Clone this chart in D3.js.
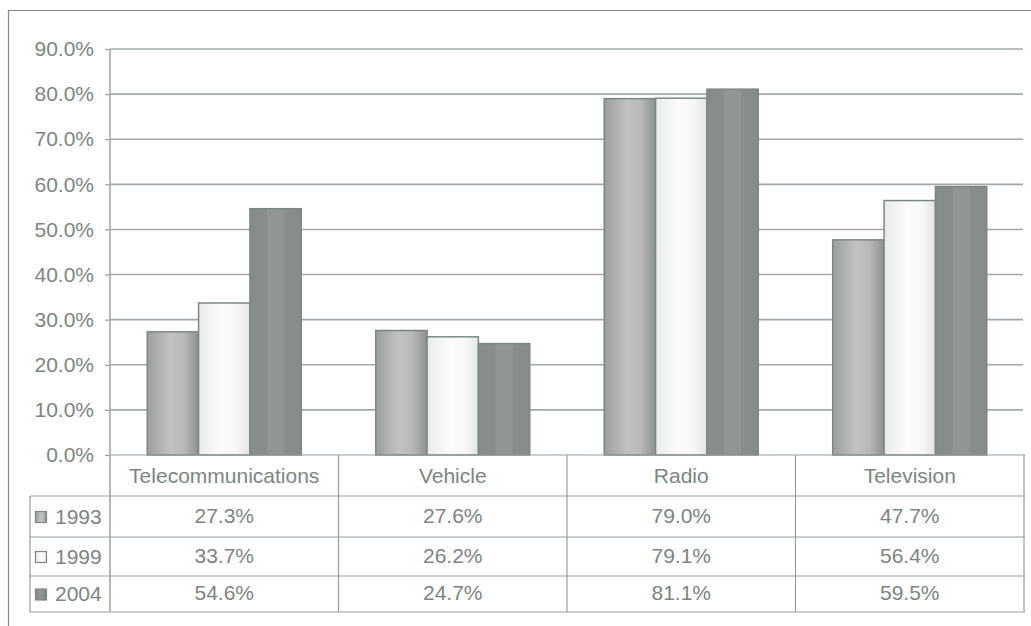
<!DOCTYPE html>
<html>
<head>
<meta charset="utf-8">
<script src="https://cdn.jsdelivr.net/npm/d3@7"></script>
<style>
  html, body { margin: 0; padding: 0; background: #fff; }
  svg { display: block; font-family: "Liberation Sans", Arial, sans-serif; }
</style>
</head>
<body>
<svg id="chart" width="1031" height="626"></svg>
<script>
// Share of output by product and year
const categories = ["Telecommunications", "Vehicle", "Radio", "Television"];
const years = ["1993", "1999", "2004"];
const values1993 = [27.3, 27.6, 79.0, 47.7];
const values1999 = [33.7, 26.2, 79.1, 56.4];
const values2004 = [54.6, 24.7, 81.1, 59.5];
const yTicks = [0, 10, 20, 30, 40, 50, 60, 70, 80, 90];

const seriesValues = [values1993, values1999, values2004];

const svg = d3.select("#chart");
const textColor = "#7b8581";
const lineColor = "#959d99";
const gridColor = "#a3a9a6";
const fontSize = "21px";

// layout
const plotLeft = 110, plotRight = 1024;
const plotTop = 49, plotBottom = 455;
const rowLines = [455, 496, 537, 576, 612];
const tableLeft = 30;

// outer frame (top and left edges)
svg.append("line").attr("x1", 8).attr("x2", 1031).attr("y1", 10.5).attr("y2", 10.5)
  .attr("stroke", "#7f8a86").attr("stroke-width", 1.2);
svg.append("line").attr("x1", 8.5).attr("x2", 8.5).attr("y1", 10).attr("y2", 626)
  .attr("stroke", "#7f8a86").attr("stroke-width", 1.2);

// gradients
const defs = svg.append("defs");
function grad(id, stops) {
  const g = defs.append("linearGradient").attr("id", id)
    .attr("x1", "0%").attr("x2", "100%").attr("y1", "0%").attr("y2", "0%");
  stops.forEach(s => g.append("stop").attr("offset", s[0]).attr("stop-color", s[1]));
}
grad("g1993", [["0%", "#9a9e9d"], ["45%", "#c1c3c2"], ["70%", "#b9bbba"], ["100%", "#8d9190"]]);
grad("g1999", [["0%", "#e9ebeb"], ["45%", "#fbfbfb"], ["75%", "#f6f7f7"], ["100%", "#e2e5e4"]]);
grad("g2004", [["0%", "#858c8b"], ["33%", "#868d8c"], ["34%", "#8f9695"], ["66%", "#8f9695"], ["67%", "#878e8d"], ["100%", "#858c8b"]]);
const fills = ["url(#g1993)", "url(#g1999)", "url(#g2004)"];
const strokes = ["#7d8885", "#7d8885", "#7d8885"];

// scales
const x0 = d3.scaleBand().domain(categories).range([plotLeft, plotRight]).paddingInner(0).paddingOuter(0);
const x1 = d3.scaleBand().domain(years).range([0, x0.bandwidth()]).paddingInner(0).paddingOuter(0.725);
const y = d3.scaleLinear().domain([0, 90]).range([plotBottom, plotTop]);

// gridlines
svg.append("g").selectAll("line").data(yTicks.filter(t => t > 0)).join("line")
  .attr("x1", plotLeft).attr("x2", plotRight - 1)
  .attr("y1", d => y(d)).attr("y2", d => y(d))
  .attr("stroke", gridColor).attr("stroke-width", 1.6);

// y axis
const yAxis = d3.axisLeft(y).tickValues(yTicks).tickSize(5).tickPadding(11)
  .tickFormat(d => d3.format(".1f")(d) + "%");
const ya = svg.append("g").attr("transform", `translate(${plotLeft},0)`).call(yAxis);
ya.select(".domain").remove();
ya.selectAll(".tick line").attr("stroke", lineColor).attr("stroke-width", 1.2);
ya.selectAll(".tick text").attr("fill", textColor).style("font-size", fontSize)
  .style("font-family", "'Liberation Sans', Arial, sans-serif");

// bars
const groups = svg.append("g").selectAll("g").data(categories).join("g")
  .attr("transform", d => `translate(${x0(d)},0)`);
groups.selectAll("rect").data((c, ci) => years.map((yr, si) => ({ yr, si, v: seriesValues[si][ci] })))
  .join("rect")
  .attr("x", d => x1(d.yr))
  .attr("width", x1.bandwidth())
  .attr("y", d => y(d.v))
  .attr("height", d => y(0) - y(d.v))
  .attr("fill", d => fills[d.si])
  .attr("stroke", d => strokes[d.si])
  .attr("stroke-width", 1.5);

// data table
const table = svg.append("g");
// horizontal lines
table.append("line").attr("x1", plotLeft).attr("x2", plotRight + 1).attr("y1", rowLines[0]).attr("y2", rowLines[0])
  .attr("stroke", lineColor).attr("stroke-width", 1.2);
[1, 2, 3, 4].forEach(i => {
  table.append("line").attr("x1", tableLeft).attr("x2", plotRight + 1)
    .attr("y1", rowLines[i]).attr("y2", rowLines[i])
    .attr("stroke", lineColor).attr("stroke-width", 1.2);
});
// vertical lines
table.append("line").attr("x1", plotLeft).attr("x2", plotLeft).attr("y1", plotTop).attr("y2", rowLines[4])
  .attr("stroke", "#a4aaa7").attr("stroke-width", 1.6);
table.append("line").attr("x1", tableLeft).attr("x2", tableLeft).attr("y1", rowLines[1]).attr("y2", rowLines[4])
  .attr("stroke", lineColor).attr("stroke-width", 1.2);
categories.forEach(c => {
  const xr = x0(c) + x0.bandwidth();
  table.append("line").attr("x1", xr).attr("x2", xr).attr("y1", rowLines[0]).attr("y2", rowLines[4])
    .attr("stroke", lineColor).attr("stroke-width", 1.2);
});

// category labels
table.selectAll("text.cat").data(categories).join("text").attr("class", "cat")
  .attr("x", d => x0(d) + x0.bandwidth() / 2)
  .attr("y", (rowLines[0] + rowLines[1]) / 2 + 7)
  .attr("text-anchor", "middle").attr("fill", textColor).style("font-size", fontSize)
  .text(d => d);

// rows
years.forEach((yr, si) => {
  const top = rowLines[si + 1], bot = rowLines[si + 2];
  const mid = (top + bot) / 2;
  table.append("rect").attr("x", 35.5).attr("y", mid - 5).attr("width", 11).attr("height", 11)
    .attr("fill", fills[si]).attr("stroke", strokes[si]).attr("stroke-width", 1.2);
  table.append("text").attr("x", 55).attr("y", mid + 7).attr("fill", textColor)
    .style("font-size", fontSize).text(yr);
  table.selectAll(null).data(categories).join("text")
    .attr("x", d => x0(d) + x0.bandwidth() / 2)
    .attr("y", mid + 6)
    .attr("text-anchor", "middle").attr("fill", textColor).style("font-size", fontSize)
    .text((d, ci) => d3.format(".1f")(seriesValues[si][ci]) + "%");
});
</script>
</body>
</html>
